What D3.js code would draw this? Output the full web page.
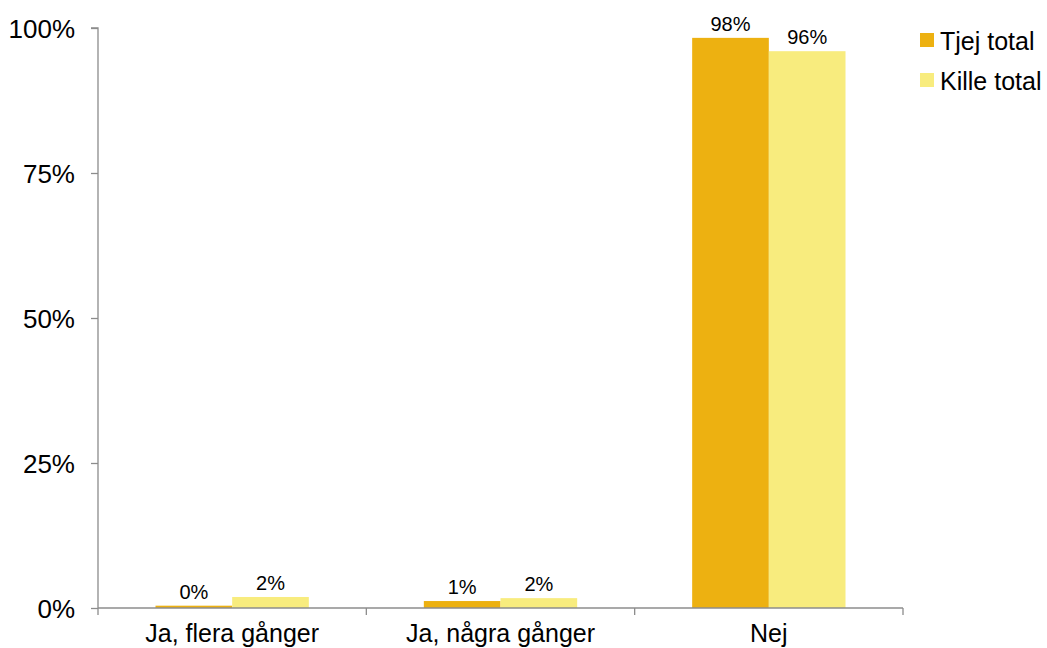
<!doctype html>
<html lang="sv">
<head>
<meta charset="utf-8">
<script src="https://cdn.jsdelivr.net/npm/d3@7"></script>
<style>
  body { margin: 0; background: #fff; }
  text { font-family: "Liberation Sans", Arial, sans-serif; fill: #000; }
</style>
</head>
<body>
<script>
var categories = ["Ja, flera gånger", "Ja, några gånger", "Nej"];
var seriesNames = ["Tjej total", "Kille total"];
var tjej = [0.4, 1.2, 98.3];
var kille = [1.9, 1.7, 96.0];
var yTicks = [0, 25, 50, 75, 100];
var colors = ["#EDB111", "#F8EC7E"];

var W = 1047, H = 648;
var margin = {top: 28, right: 144, bottom: 40, left: 98};
var w = W - margin.left - margin.right;
var h = H - margin.top - margin.bottom;

var svg = d3.select("body").append("svg")
    .attr("width", W).attr("height", H);
var g = svg.append("g")
    .attr("transform", "translate(" + margin.left + "," + margin.top + ")");

var x0 = d3.scaleBand().domain(d3.range(categories.length)).range([0, w]);
var x1 = d3.scaleBand().domain(d3.range(seriesNames.length))
    .range([0, x0.bandwidth()]).paddingOuter(0.75).paddingInner(0);
var y = d3.scaleLinear().domain([0, 100]).range([h, 0]);

var data = [tjej, kille];

// bars
data.forEach(function(vals, s) {
  g.selectAll(".bar" + s)
    .data(vals).enter().append("rect")
    .attr("x", (d, i) => x0(i) + x1(s))
    .attr("y", d => y(d))
    .attr("width", x1.bandwidth())
    .attr("height", d => h - y(d))
    .attr("fill", colors[s]);
  g.selectAll(".lab" + s)
    .data(vals).enter().append("text")
    .attr("x", (d, i) => x0(i) + x1(s) + x1.bandwidth() / 2)
    .attr("y", d => y(d) - 7)
    .attr("text-anchor", "middle")
    .attr("font-size", "20px")
    .text(d => Math.round(d) + "%");
});

// y axis
var yAxis = g.append("g")
  .call(d3.axisLeft(y).tickValues(yTicks).tickSize(7).tickPadding(16)
    .tickFormat(d => d + "%"));
yAxis.attr("font-size", null).attr("font-family", null);
yAxis.selectAll("text").attr("font-size", "26px").attr("dy", "0.36em");

// x axis with ticks between categories
var xAxis = g.append("g").attr("transform", "translate(0," + h + ")");
xAxis.append("line").attr("x1", 0).attr("x2", w).attr("y1", 0).attr("y2", 0);
xAxis.selectAll(".tk").data(d3.range(categories.length + 1)).enter().append("line")
    .attr("x1", i => i * x0.step()).attr("x2", i => i * x0.step())
    .attr("y1", 0).attr("y2", 7);
xAxis.selectAll(".cl").data(categories).enter().append("text")
    .attr("x", (d, i) => x0(i) + x0.bandwidth() / 2)
    .attr("y", 34)
    .attr("text-anchor", "middle")
    .attr("font-size", "25px")
    .text(d => d);

svg.selectAll(".domain, .tick line, g line")
    .attr("stroke", "#8c8c8c").attr("stroke-width", 1.3);
yAxis.select(".domain").attr("d", "M-7," + y(100) + "H0V" + h);

// legend
var lg = svg.append("g").attr("transform", "translate(920,33)");
seriesNames.forEach(function(name, i) {
  lg.append("rect").attr("x", 0).attr("y", i * 40).attr("width", 14).attr("height", 14)
    .attr("fill", colors[i]);
  lg.append("text").attr("x", 20).attr("y", i * 40 + 17)
    .attr("font-size", "25px").text(name);
});
</script>
</body>
</html>
